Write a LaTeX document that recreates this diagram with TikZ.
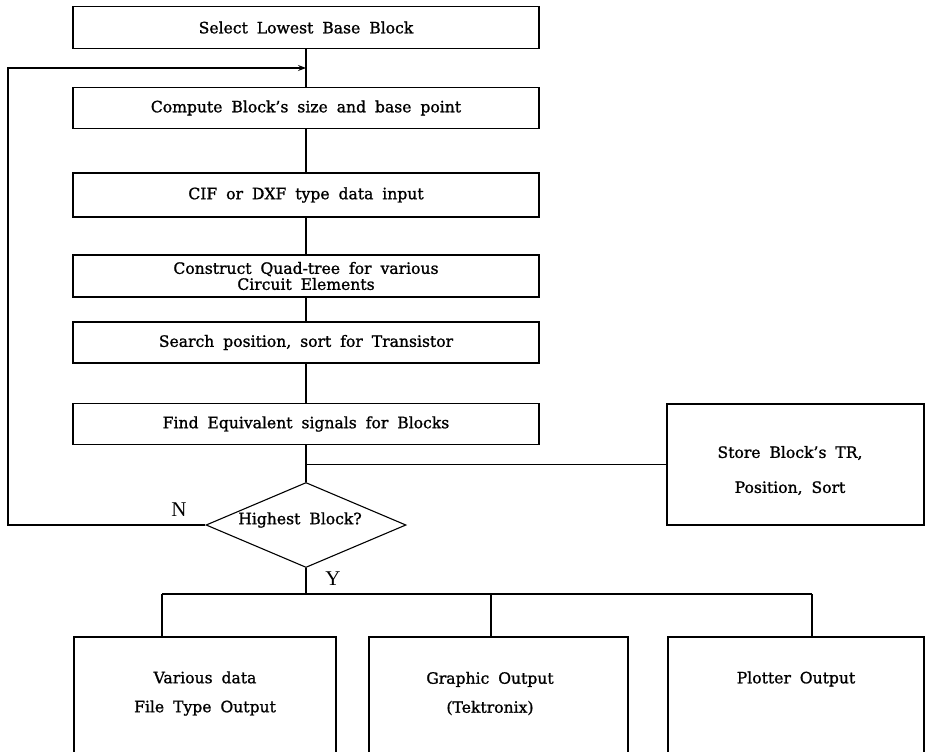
\documentclass[tikz,border=0pt]{standalone}
\usepackage{fontspec}
\setmainfont{DejaVu Serif}[WordSpace=1.8,FakeBold=1.2]
\newfontfamily\nyfont{Liberation Serif}
\usetikzlibrary{shapes.geometric,arrows.meta}
\begin{document}
\begin{tikzpicture}[x=1pt,y=-1pt,
  proc/.style={draw, line width=1.1pt, minimum width=466pt, inner sep=0pt, align=center, font=\fontsize{15.6}{16}\selectfont},
  dec/.style={draw, diamond, line width=1.1pt, minimum width=200pt, minimum height=85pt, inner sep=0pt},
  big/.style={draw, line width=1.1pt, inner sep=0pt},
  txt/.style={align=center, font=\fontsize{15.6}{29}\selectfont},
  lbl/.style={font=\nyfont\fontsize{21}{21}\selectfont},
  conn/.style={line width=1.1pt}]
\useasboundingbox (0,0) rectangle (926,752);
\clip (0,0) rectangle (926,752);
\node[proc, minimum height=42pt] (b1) at (306,27.5) {Select Lowest Base Block};
\node[proc, minimum height=41pt] (b2) at (306,108) {Compute Block's size and base point};
\node[proc, minimum height=44pt] (b3) at (306,195) {CIF or DXF type data input};
\node[proc, minimum height=42pt] (b4) at (306,276) {Construct Quad-tree for various\\Circuit Elements};
\node[proc, minimum height=41pt] (b5) at (306,342.5) {Search position, sort for Transistor};
\node[proc, minimum height=41pt] (b6) at (306,424) {Find Equivalent signals for Blocks};
\node[big, minimum width=257pt, minimum height=121pt] (st) at (795.5,464.5) {};
\node[txt, font=\fontsize{15.6}{35}\selectfont] (stt) at (790,470.5) {Store Block's TR,\\Position, Sort};
\node[dec] (d) at (306,525) {};
\node[txt] (dt) at (300,520) {Highest Block?};
\node[lbl] (nl) at (179,510) {N};
\node[lbl] (yl) at (333,579) {Y};
\node[big, minimum width=262pt, minimum height=133pt] (o1) at (205,703.5) {};
\node[big, minimum width=259pt, minimum height=133pt] (o2) at (498.5,703.5) {};
\node[big, minimum width=256pt, minimum height=133pt] (o3) at (796,703.5) {};
\node[txt] (o1t) at (205,693.5) {Various data\\File Type Output};
\node[txt] (o2t) at (490,693.5) {Graphic Output\\(Tektronix)};
\node[txt] (o3t) at (796,679) {Plotter Output};
\coordinate (loopT) at (8,68);
\coordinate (loopB) at (8,525);
\coordinate (br) at (306,594);
\coordinate (brL) at (162,594);
\coordinate (brM) at (491,594);
\coordinate (brR) at (812,594);
\draw[conn] (b1) -- (b2);
\draw[conn] (b2) -- (b3);
\draw[conn] (b3) -- (b4);
\draw[conn] (b4) -- (b5);
\draw[conn] (b5) -- (b6);
\draw[conn] (b6) -- (d);
\draw[conn, -{Stealth[length=8pt,width=6pt]}] (d.west) -- (loopB) -- (loopT) -- (b1.south |- loopT);
\draw[conn] (b6.south |- st.west) -- (st.west);
\draw[conn] (d.south) -- (br);
\draw[conn] (brL) -- (brR);
\draw[conn] (brL) -- (o1.north -| brL);
\draw[conn] (brM) -- (o2.north -| brM);
\draw[conn] (brR) -- (o3.north -| brR);
\end{tikzpicture}
\end{document}
